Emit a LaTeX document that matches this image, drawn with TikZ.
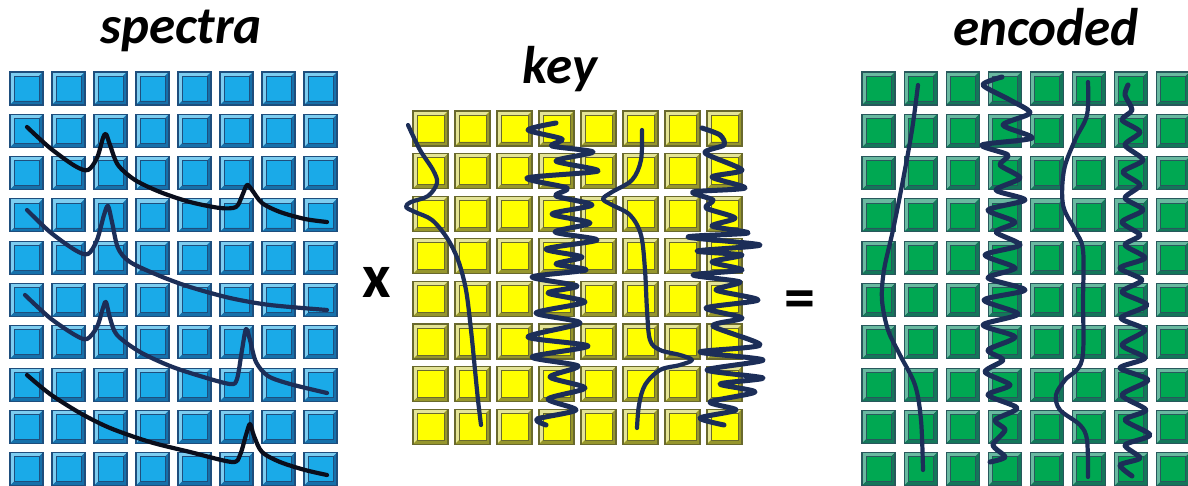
\documentclass[tikz,border=0pt]{standalone}
\usepackage{fontspec}
\setmainfont{Carlito}
\definecolor{blm}{RGB}{26,170,232}
\definecolor{bll}{RGB}{125,205,240}
\definecolor{bld}{RGB}{22,112,170}
\definecolor{ble}{RGB}{30,78,125}
\definecolor{yem}{RGB}{255,255,0}
\definecolor{yel}{RGB}{228,228,150}
\definecolor{yed}{RGB}{150,150,45}
\definecolor{yee}{RGB}{105,105,45}
\definecolor{grm}{RGB}{0,168,82}
\definecolor{grl}{RGB}{105,185,160}
\definecolor{grd}{RGB}{20,118,90}
\definecolor{gre}{RGB}{40,88,92}
\definecolor{navy}{RGB}{28,46,88}
\definecolor{ink}{RGB}{10,14,28}
\newcommand\bv{4}
\newcommand\btn[4]{%
 \begin{scope}[shift={(#1,#2)}]
  \fill[#4m] (0,0) rectangle (#3,#3);
  \fill[#4l] (0,0) -- (#3,0) -- (#3-\bv,\bv) -- (\bv,\bv) -- (\bv,#3-\bv) -- (0,#3) -- cycle;
  \fill[#4d] (#3,#3) -- (#3,0) -- (#3-\bv,\bv) -- (#3-\bv,#3-\bv) -- (\bv,#3-\bv) -- (0,#3) -- cycle;
  \draw[#4e, line width=0.7] (\bv,\bv) rectangle (#3-\bv,#3-\bv);
  \draw[#4e, line width=1.2] (0,0) rectangle (#3,#3);
 \end{scope}}
\tikzset{
  title/.style={font=\fontsize{53}{60}\selectfont\bfseries\itshape, inner sep=0pt, anchor=base},
  op/.style={font=\fontsize{62}{70}\selectfont\bfseries, inner sep=0pt, anchor=base},
  curve/.style={line width=4.2pt, line cap=round, line join=round},
  wig/.style={line width=5pt, line cap=round, line join=round, navy}
}
\begin{document}
\begin{tikzpicture}[x=1pt,y=-1pt]
\useasboundingbox (0,0) rectangle (1188,486);
\clip (0,0) rectangle (1188,486);
\fill[white] (0,0) rectangle (1188,486);
% grids
\foreach \c in {0,...,7}{\foreach \r in {0,...,9}{\btn{10+42*\c}{72+42.3*\r}{33}{bl}}}
\foreach \c in {0,...,7}{\foreach \r in {0,...,7}{\btn{413+42*\c}{111+42.6*\r}{35}{ye}}}
\foreach \c in {0,...,7}{\foreach \r in {0,...,9}{\btn{862+42.1*\c}{72+42.3*\r}{33}{gr}}}
% titles
\node[title] (tspec) at (181,44) {spectra};
\node[title] (tkey) at (560,84) {key};
\node[title] (tenc) at (1046,46) {encoded};
\node[op] (times) at (377,298) {x};
\node[op] (equals) at (800,318) {=};
% spectra curves
\draw[curve, ink] plot[smooth, tension=0.5] coordinates {(27,127) (50,148) (75,166) (88,170) (97,158) (103,138) (106,134) (110,145) (118,165) (135,180) (160,192) (190,202) (220,208) (236,207) (242,196) (247,185) (252,190) (262,203) (280,212) (305,219) (327,222)};
\draw[curve, navy] plot[smooth, tension=0.5] coordinates {(27,210) (50,232) (75,250) (88,254) (97,240) (104,215) (108,206) (112,222) (118,248) (130,262) (160,276) (190,287) (230,298) (270,305) (327,310)};
\draw[curve, navy] plot[smooth, tension=0.5] coordinates {(25,295) (50,318) (75,335) (87,339) (97,327) (103,308) (106,302) (110,318) (117,335) (140,352) (170,366) (200,376) (230,384) (237,379) (242,350) (246,329) (250,340) (256,362) (268,376) (290,384) (327,393)};
\draw[curve, ink] plot[smooth, tension=0.5] coordinates {(27,375) (50,394) (80,413) (110,428) (150,442) (190,452) (232,462) (240,455) (246,435) (250,424) (254,436) (262,452) (280,462) (305,470) (327,475)};
% key curves
\draw[curve, navy] plot[smooth, tension=0.55] coordinates {(408,125) (420,150) (433,170) (437,183) (428,196) (411,202) (406,207) (415,212) (432,220) (447,238) (458,260) (466,290) (471,330) (475,370) (478,400) (481,425)};
\draw[wig] plot[smooth, tension=0.45] coordinates {(556,123) (528,130) (562,139) (552,146) (593,152) (556,161) (598,171) (527,178) (567,188) (556,196) (592,205) (552,214) (590,223) (555,232) (597,240) (546,249) (582,257) (556,264) (586,270) (532,277) (577,286) (548,293) (585,302) (536,313) (580,323) (528,337) (588,346) (532,357) (578,366) (550,377) (585,388) (548,399) (576,410) (537,419) (546,425)};
\draw[curve, navy] plot[smooth, tension=0.55] coordinates {(642,130) (641,160) (632,180) (612,192) (603,199) (612,205) (630,215) (641,235) (645,270) (647,310) (650,340) (660,350) (680,355) (692,360) (680,365) (660,370) (645,385) (639,405) (637,428)};
\draw[wig] plot[smooth, tension=0.45] coordinates {(702,128) (720,135) (724,145) (705,153) (742,170) (712,177) (745,188) (693,192) (713,200) (706,208) (735,218) (712,226) (748,233) (688,237) (760,245) (697,251) (742,255) (712,262) (742,270) (693,275) (740,282) (716,290) (758,300) (706,308) (742,318) (713,326) (760,345) (700,352) (763,360) (707,370) (763,378) (720,384) (755,392) (710,402) (736,410) (700,418) (724,425)};
% encoded curves
\draw[curve, navy] plot[smooth, tension=0.55] coordinates {(918,85) (912,130) (903,180) (893,230) (884,270) (882,300) (888,330) (900,355) (915,385) (921,420) (923,470)};
\draw[wig] plot[smooth, tension=0.45] coordinates {(1002,77) (983,85) (1010,100) (1030,113) (1003,125) (1032,138) (982,145) (1008,155) (1000,165) (1020,178) (996,190) (1025,200) (988,210) (1015,222) (996,232) (1020,245) (985,255) (1015,268) (988,278) (1025,290) (984,300) (1018,314) (983,325) (1015,337) (988,350) (1003,360) (985,372) (1010,385) (988,395) (1017,408) (995,420) (1005,430) (993,445) (1005,457) (990,462)};
\draw[curve, navy] plot[smooth, tension=0.55] coordinates {(1088,82) (1087,115) (1075,140) (1064,170) (1063,205) (1075,230) (1083,250) (1083,300) (1082,360) (1065,380) (1056,395) (1060,410) (1080,425) (1087,440) (1088,477)};
\draw[wig] plot[smooth, tension=0.45] coordinates {(1128,85) (1125,95) (1132,110) (1122,120) (1140,132) (1125,145) (1143,160) (1123,172) (1140,185) (1125,198) (1143,210) (1122,222) (1140,235) (1125,245) (1145,258) (1120,268) (1142,280) (1122,292) (1147,305) (1121,318) (1145,330) (1122,345) (1145,358) (1120,368) (1148,380) (1122,395) (1146,410) (1125,420) (1150,435) (1125,445) (1140,458) (1120,465) (1132,476)};
\end{tikzpicture}
\end{document}
